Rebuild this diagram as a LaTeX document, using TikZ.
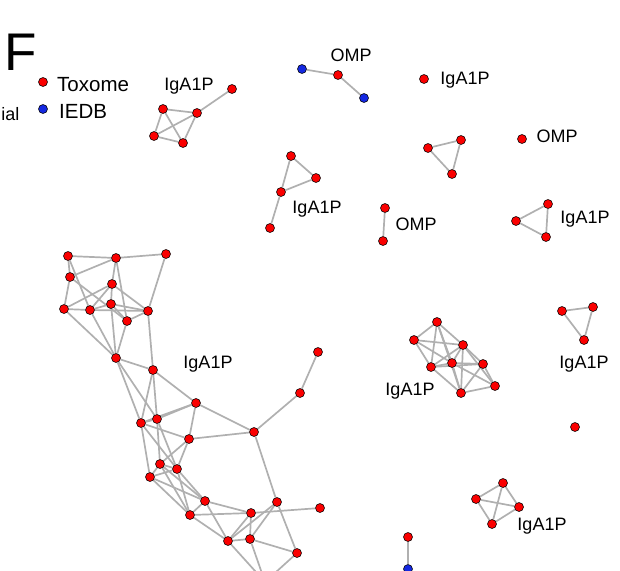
\documentclass[tikz,border=0pt]{standalone}
\usepackage{fontspec}
\setmainfont{Liberation Sans}
\definecolor{nred}{RGB}{250,0,0}
\definecolor{nblue}{RGB}{20,40,225}
\pgfdeclarelayer{bg}
\pgfsetlayers{bg,main}
\begin{document}
\begin{tikzpicture}[x=1pt,y=-1pt,
  dot/.style={circle,draw=black,line width=0.55pt,fill=nred,inner sep=0pt,minimum size=9pt},
  bdot/.style={dot,fill=nblue},
  edge/.style={draw=gray!62,line width=1.7pt},
  lab/.style={font=\fontsize{18}{18}\selectfont,anchor=base,inner sep=0pt},
  leg/.style={font=\fontsize{20.5}{20.5}\selectfont,anchor=base west,inner sep=0pt}]
\useasboundingbox (0,0) rectangle (620,570);
\clip (0,0) rectangle (620,570);
% title and legend
\node[anchor=base west,inner sep=0pt,font=\fontsize{53}{53}\selectfont] (title) at (4,70) {F};
\node[dot] (legr) at (43,82) {};
\node[leg] (legrt) at (57,91) {Toxome};
\node[bdot] (legb) at (43,109) {};
\node[leg] (legbt) at (59,118) {IEDB};
\node[anchor=base east,inner sep=0pt,font=\fontsize{18}{18}\selectfont] (cut) at (19.5,120) {ial};
% labels
\node[lab] (l1) at (189,90) {IgA1P};
\node[lab] (l2) at (351,61) {OMP};
\node[lab] (l3) at (465,84) {IgA1P};
\node[lab] (l4) at (557,142) {OMP};
\node[lab] (l5) at (317,213) {IgA1P};
\node[lab] (l6) at (416,230) {OMP};
\node[lab] (l7) at (585,223) {IgA1P};
\node[lab] (l8) at (584,368) {IgA1P};
\node[lab] (l9) at (410,395) {IgA1P};
\node[lab] (l10) at (542,530) {IgA1P};
\node[lab] (l11) at (208,368) {IgA1P};
% small groups
\node[dot] (t1) at (232,89) {};
\node[dot] (t2) at (163,109) {};
\node[dot] (t3) at (197,113) {};
\node[dot] (t4) at (154,136) {};
\node[dot] (t5) at (183,143) {};
\node[bdot] (ob1) at (302,69) {};
\node[dot] (or1) at (338,75) {};
\node[bdot] (ob2) at (364,98) {};
\node[dot] (s1) at (424,79) {};
\node[dot] (tr1) at (428,148) {};
\node[dot] (tr2) at (461,140) {};
\node[dot] (tr3) at (452,174) {};
\node[dot] (s2) at (522,139) {};
\node[dot] (g1) at (291,156) {};
\node[dot] (g2) at (316,178) {};
\node[dot] (g3) at (281,192) {};
\node[dot] (g4) at (270,228) {};
\node[dot] (p1) at (385,208) {};
\node[dot] (p2) at (383,241) {};
\node[dot] (rt1) at (516,221) {};
\node[dot] (rt2) at (548,204) {};
\node[dot] (rt3) at (546,237) {};
\node[dot] (ft1) at (562,311) {};
\node[dot] (ft2) at (593,307) {};
\node[dot] (ft3) at (584,340) {};
\node[dot] (s3) at (575,427) {};
\node[dot] (c1) at (437,322) {};
\node[dot] (c2) at (414,340) {};
\node[dot] (c3) at (463,345) {};
\node[dot] (c4) at (431,367) {};
\node[dot] (c5) at (452,363) {};
\node[dot] (c6) at (483,364) {};
\node[dot] (c7) at (495,386) {};
\node[dot] (c8) at (461,393) {};
\node[dot] (k1) at (503,483) {};
\node[dot] (k2) at (476,499) {};
\node[dot] (k3) at (519,507) {};
\node[dot] (k4) at (492,524) {};
\node[dot] (bp1) at (408,537) {};
\node[bdot] (bp2) at (408,569) {};
% big component
\node[dot] (A) at (68,256) {};
\node[dot] (B) at (116,258) {};
\node[dot] (C) at (166,254) {};
\node[dot] (D) at (70,277) {};
\node[dot] (E) at (112,284) {};
\node[dot] (F) at (111,304) {};
\node[dot] (G) at (64,309) {};
\node[dot] (H) at (90,310) {};
\node[dot] (I) at (148,311) {};
\node[dot] (J) at (127,321) {};
\node[dot] (K) at (116,358) {};
\node[dot] (L) at (153,370) {};
\node[dot] (M) at (196,403) {};
\node[dot] (N) at (141,423) {};
\node[dot] (O) at (157,419) {};
\node[dot] (P) at (189,439) {};
\node[dot] (Q) at (160,464) {};
\node[dot] (R) at (177,469) {};
\node[dot] (S) at (150,477) {};
\node[dot] (T) at (205,501) {};
\node[dot] (U) at (254,432) {};
\node[dot] (V) at (277,502) {};
\node[dot] (W) at (190,515) {};
\node[dot] (X) at (251,513) {};
\node[dot] (Y) at (320,508) {};
\node[dot] (Z) at (228,541) {};
\node[dot] (ZZ) at (250,539) {};
\node[dot] (AA) at (297,553) {};
\node[dot] (Pu) at (300,393) {};
\node[dot] (Pt) at (318,352) {};
\coordinate (off) at (265,582);
\begin{pgfonlayer}{bg}
\foreach \a/\b in {t1/t3,t2/t3,t2/t4,t2/t5,t3/t4,t3/t5,t4/t5,
  ob1/or1,or1/ob2,tr1/tr2,tr2/tr3,tr1/tr3,g1/g2,g1/g3,g2/g3,g3/g4,p1/p2,
  rt1/rt2,rt2/rt3,rt1/rt3,ft1/ft2,ft2/ft3,ft1/ft3,
  c1/c2,c1/c3,c1/c4,c1/c5,c1/c8,c2/c3,c2/c4,c2/c5,c3/c4,c3/c5,c3/c6,c3/c7,c3/c8,
  c4/c5,c4/c6,c4/c8,c5/c6,c5/c8,c5/c7,c6/c7,c6/c8,c7/c8,
  k1/k2,k1/k3,k1/k4,k2/k3,k2/k4,k3/k4,bp1/bp2,
  A/B,B/C,A/D,D/B,A/H,D/J,D/G,G/E,G/H,H/E,H/I,H/F,E/F,E/I,B/E,B/J,C/I,F/I,F/J,I/J,
  G/K,H/K,F/K,J/K,I/L,K/L,K/N,K/O,L/O,L/M,L/N,
  N/O,N/M,O/M,M/P,N/P,P/Q,P/R,P/U,M/U,N/S,N/R,O/Q,O/R,Q/R,Q/S,R/S,
  Q/T,R/T,S/T,S/W,Q/W,R/W,T/W,T/X,W/X,X/Y,T/Z,W/Z,X/Z,X/ZZ,Z/ZZ,ZZ/AA,V/AA,V/Z,V/ZZ,V/U,
  U/Pu,Pu/Pt,Z/off,ZZ/off,AA/off}
  \draw[edge] (\a) -- (\b);
\end{pgfonlayer}
\end{tikzpicture}
\end{document}
